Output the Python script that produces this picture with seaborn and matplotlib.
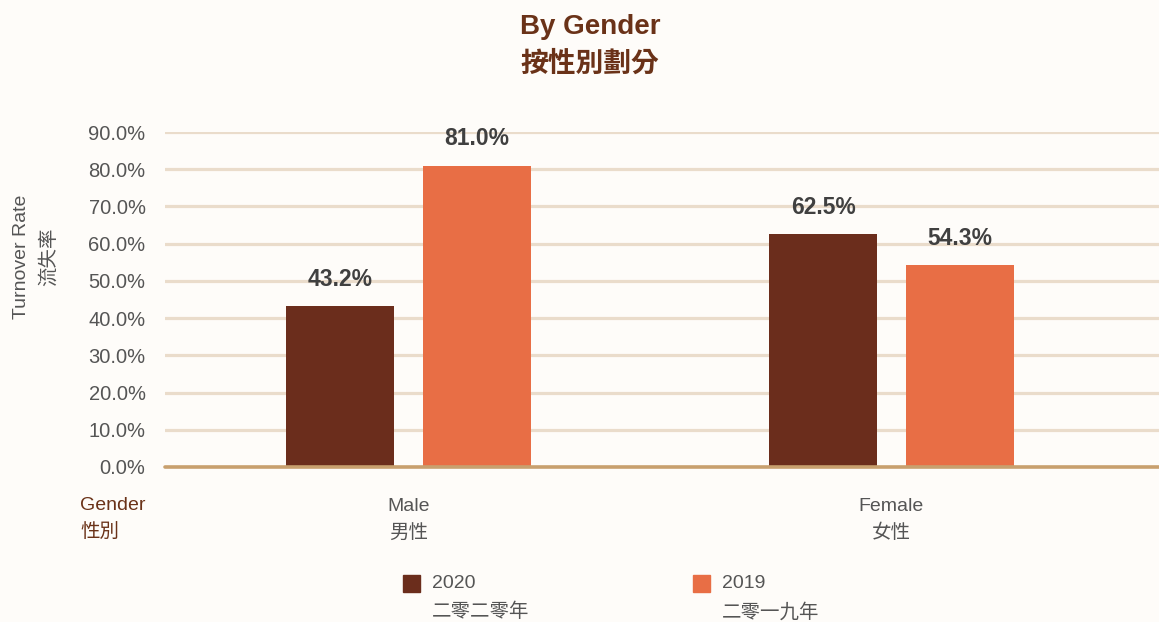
import matplotlib
matplotlib.use("Agg")
import matplotlib.pyplot as plt
from matplotlib.patches import Rectangle
import seaborn as sns
import pandas as pd

genders = ["Male", "Female"]
genders_zh = ["男性", "女性"]
years = ["2020", "2019"]
years_zh = ["二零二零年", "二零一九年"]
values_2020 = [43.2, 62.5]
values_2019 = [81.0, 54.3]
colors = ["#6b2d1c", "#e86e45"]
yticks = [0, 10, 20, 30, 40, 50, 60, 70, 80, 90]

FAM = ["Liberation Sans", "Noto Sans CJK TC", "DejaVu Sans"]

sns.set_theme(style="white")
plt.rcParams["font.family"] = FAM

df = pd.DataFrame({
    "gender": genders * 2,
    "year": [years[0]] * 2 + [years[1]] * 2,
    "value": values_2020 + values_2019,
})

W, H = 1159, 622
fig = plt.figure(figsize=(W / 100, H / 100), dpi=100, facecolor="#fefcf9")
ax = fig.add_axes([165 / W, (H - 467) / H, (W - 165) / W, 335 / H])
ax.set_facecolor("none")

sns.barplot(data=df, x="gender", y="value", hue="year", order=genders,
            hue_order=years, palette=colors, width=0.565, gap=0.207,
            saturation=1, legend=False, ax=ax, zorder=3, linewidth=0,
            edgecolor="none")

ax.set_xlim(-0.504, 1.554)
ax.set_ylim(0, 90)
ax.set_yticks(yticks)
ax.set_yticklabels([f"{v:.1f}%" for v in yticks], color="#555555", fontsize=14.5)
ax.tick_params(axis="y", length=0, pad=14)
ax.set_xticks(range(len(genders)))
ax.set_xticklabels([f"{e}\n{z}" for e, z in zip(genders, genders_zh)],
                   color="#555555", fontsize=14, linespacing=1.65)
ax.tick_params(axis="x", length=0, pad=22)
for s in ax.spines.values():
    s.set_visible(False)
ax.yaxis.grid(True, color="#eadccb", lw=2.3, zorder=0)
ax.xaxis.grid(False)
ax.set_axisbelow(True)
ax.axhline(0, color="#c8a06e", lw=2.6, zorder=4, clip_on=False)
ax.set_xlabel("")
ax.set_ylabel("")

for cont in ax.containers:
    ax.bar_label(cont, fmt="%.1f%%", padding=11, fontsize=16.5,
                 fontweight="bold", color="#404040")

# Title
fig.text(590 / W, 1 - 27 / H, "By Gender", ha="center", va="center",
         fontsize=20, fontweight="bold", color="#6a3218")
fig.text(590 / W, 1 - 65 / H, "按性別劃分", ha="center", va="center",
         fontsize=20, fontweight="bold", color="#6a3218")

# Y label
fig.text(22 / W, 1 - 257 / H, "Turnover Rate", rotation=90, ha="center",
         va="center", fontsize=14, color="#555555")
fig.text(48 / W, 1 - 257 / H, "流失率", rotation=90, ha="center",
         va="center", fontsize=14, color="#555555")

# X axis title
fig.text(80 / W, 1 - 505 / H, "Gender", ha="left", va="center",
         fontsize=14, color="#6a3218")
fig.text(80 / W, 1 - 532 / H, "性別", ha="left", va="center",
         fontsize=14, color="#6a3218")

# Legend
for i, (y, yz, c) in enumerate(zip(years, years_zh, colors)):
    x0 = 403 + i * 290
    fig.patches.append(Rectangle((x0 / W, 1 - 592 / H), 17 / W, 17 / H,
                                 transform=fig.transFigure, color=c))
    fig.text((x0 + 29) / W, 1 - 583 / H, y, ha="left", va="center",
             fontsize=14, color="#555555")
    fig.text((x0 + 29) / W, 1 - 612 / H, yz, ha="left", va="center",
             fontsize=14, color="#555555")

fig.savefig("out.png", dpi=100, facecolor=fig.get_facecolor())
